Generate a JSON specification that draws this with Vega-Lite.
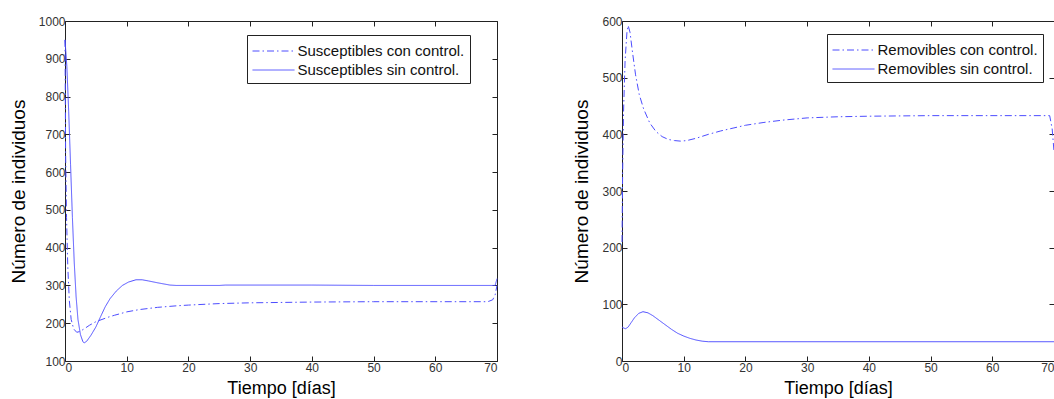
{
  "$schema": "https://vega.github.io/schema/vega-lite/v6.json",
  "background": "white",
  "padding": {"left": 8, "top": 14, "right": 0, "bottom": 0},
  "spacing": 125,
  "bounds": "flush",
  "config": {
    "font": "Liberation Sans",
    "view": {"stroke": "#222", "strokeWidth": 1},
    "axis": {
      "grid": false,
      "domain": false,
      "tickSize": -5,
      "tickColor": "#222",
      "labelFontSize": 12,
      "labelColor": "#333",
      "labelPadding": 5,
      "labelLimit": 0,
      "format": "d",
      "titleFontSize": 19,
      "titleFontWeight": "normal",
      "titleColor": "#000",
      "titlePadding": 10
    },
    "axisBottom": {"titleFontSize": 18, "titlePadding": 6, "labelPadding": 6},
    "legend": {
      "orient": "none",
      "title": null,
      "strokeColor": "#222",
      "fillColor": "white",
      "padding": 5,
      "symbolType": "M-2,0H2",
      "symbolSize": 441,
      "symbolOffset": 10.5,
      "symbolStrokeWidth": 1,
      "symbolStrokeColor": "#4d4dff",
      "symbolFillColor": "transparent",
      "labelFontSize": 15,
      "labelColor": "#111",
      "labelOffset": 13,
      "labelLimit": 0,
      "rowPadding": 0
    }
  },
  "datasets": {
    "S": [
      {"t": 0, "v": 950, "serie": "Susceptibles sin control."},
      {"t": 0.3, "v": 880, "serie": "Susceptibles sin control."},
      {"t": 0.6, "v": 760, "serie": "Susceptibles sin control."},
      {"t": 0.9, "v": 620, "serie": "Susceptibles sin control."},
      {"t": 1.2, "v": 480, "serie": "Susceptibles sin control."},
      {"t": 1.5, "v": 360, "serie": "Susceptibles sin control."},
      {"t": 1.8, "v": 270, "serie": "Susceptibles sin control."},
      {"t": 2.1, "v": 210, "serie": "Susceptibles sin control."},
      {"t": 2.5, "v": 170, "serie": "Susceptibles sin control."},
      {"t": 2.9, "v": 151, "serie": "Susceptibles sin control."},
      {"t": 3.1, "v": 148, "serie": "Susceptibles sin control."},
      {"t": 3.5, "v": 152, "serie": "Susceptibles sin control."},
      {"t": 4.2, "v": 168, "serie": "Susceptibles sin control."},
      {"t": 5, "v": 190, "serie": "Susceptibles sin control."},
      {"t": 5.7, "v": 215, "serie": "Susceptibles sin control."},
      {"t": 6.5, "v": 243, "serie": "Susceptibles sin control."},
      {"t": 7.3, "v": 265, "serie": "Susceptibles sin control."},
      {"t": 8.3, "v": 285, "serie": "Susceptibles sin control."},
      {"t": 9.3, "v": 300, "serie": "Susceptibles sin control."},
      {"t": 10.3, "v": 309, "serie": "Susceptibles sin control."},
      {"t": 11.5, "v": 315, "serie": "Susceptibles sin control."},
      {"t": 12.5, "v": 315, "serie": "Susceptibles sin control."},
      {"t": 13.5, "v": 312, "serie": "Susceptibles sin control."},
      {"t": 15, "v": 307, "serie": "Susceptibles sin control."},
      {"t": 17, "v": 301, "serie": "Susceptibles sin control."},
      {"t": 18, "v": 300, "serie": "Susceptibles sin control."},
      {"t": 25, "v": 300, "serie": "Susceptibles sin control."},
      {"t": 26, "v": 301, "serie": "Susceptibles sin control."},
      {"t": 40, "v": 301, "serie": "Susceptibles sin control."},
      {"t": 50, "v": 300, "serie": "Susceptibles sin control."},
      {"t": 69.7, "v": 300, "serie": "Susceptibles sin control."},
      {"t": 70, "v": 318, "serie": "Susceptibles sin control."},
      {"t": 0, "v": 950, "serie": "Susceptibles con control."},
      {"t": 0.05, "v": 800, "serie": "Susceptibles con control."},
      {"t": 0.1, "v": 650, "serie": "Susceptibles con control."},
      {"t": 0.25, "v": 480, "serie": "Susceptibles con control."},
      {"t": 0.45, "v": 350, "serie": "Susceptibles con control."},
      {"t": 0.7, "v": 260, "serie": "Susceptibles con control."},
      {"t": 1.0, "v": 210, "serie": "Susceptibles con control."},
      {"t": 1.4, "v": 185, "serie": "Susceptibles con control."},
      {"t": 1.9, "v": 176, "serie": "Susceptibles con control."},
      {"t": 2.4, "v": 178, "serie": "Susceptibles con control."},
      {"t": 3, "v": 184, "serie": "Susceptibles con control."},
      {"t": 4, "v": 195, "serie": "Susceptibles con control."},
      {"t": 5, "v": 204, "serie": "Susceptibles con control."},
      {"t": 6, "v": 210, "serie": "Susceptibles con control."},
      {"t": 7, "v": 216, "serie": "Susceptibles con control."},
      {"t": 8, "v": 221, "serie": "Susceptibles con control."},
      {"t": 10, "v": 230, "serie": "Susceptibles con control."},
      {"t": 12, "v": 236, "serie": "Susceptibles con control."},
      {"t": 15, "v": 242, "serie": "Susceptibles con control."},
      {"t": 18, "v": 246, "serie": "Susceptibles con control."},
      {"t": 20, "v": 248, "serie": "Susceptibles con control."},
      {"t": 25, "v": 252, "serie": "Susceptibles con control."},
      {"t": 30, "v": 254, "serie": "Susceptibles con control."},
      {"t": 40, "v": 256, "serie": "Susceptibles con control."},
      {"t": 50, "v": 257, "serie": "Susceptibles con control."},
      {"t": 68.5, "v": 257, "serie": "Susceptibles con control."},
      {"t": 69.3, "v": 262, "serie": "Susceptibles con control."},
      {"t": 69.7, "v": 275, "serie": "Susceptibles con control."},
      {"t": 70, "v": 300, "serie": "Susceptibles con control."}
    ],
    "R": [
      {"t": 0, "v": 210, "serie": "Removibles con control."},
      {"t": 0.1, "v": 330, "serie": "Removibles con control."},
      {"t": 0.25, "v": 440, "serie": "Removibles con control."},
      {"t": 0.5, "v": 530, "serie": "Removibles con control."},
      {"t": 0.8, "v": 580, "serie": "Removibles con control."},
      {"t": 1.0, "v": 592, "serie": "Removibles con control."},
      {"t": 1.3, "v": 580, "serie": "Removibles con control."},
      {"t": 1.7, "v": 545, "serie": "Removibles con control."},
      {"t": 2.2, "v": 505, "serie": "Removibles con control."},
      {"t": 2.8, "v": 470, "serie": "Removibles con control."},
      {"t": 3.5, "v": 445, "serie": "Removibles con control."},
      {"t": 4.5, "v": 420, "serie": "Removibles con control."},
      {"t": 5.5, "v": 405, "serie": "Removibles con control."},
      {"t": 6.5, "v": 396, "serie": "Removibles con control."},
      {"t": 7.5, "v": 391, "serie": "Removibles con control."},
      {"t": 8.5, "v": 389, "serie": "Removibles con control."},
      {"t": 9.5, "v": 388, "serie": "Removibles con control."},
      {"t": 10.5, "v": 389, "serie": "Removibles con control."},
      {"t": 12, "v": 393, "serie": "Removibles con control."},
      {"t": 14, "v": 400, "serie": "Removibles con control."},
      {"t": 16, "v": 406, "serie": "Removibles con control."},
      {"t": 18, "v": 411, "serie": "Removibles con control."},
      {"t": 20, "v": 416, "serie": "Removibles con control."},
      {"t": 23, "v": 421, "serie": "Removibles con control."},
      {"t": 26, "v": 425, "serie": "Removibles con control."},
      {"t": 30, "v": 429, "serie": "Removibles con control."},
      {"t": 35, "v": 431, "serie": "Removibles con control."},
      {"t": 40, "v": 432, "serie": "Removibles con control."},
      {"t": 50, "v": 433, "serie": "Removibles con control."},
      {"t": 69.3, "v": 433, "serie": "Removibles con control."},
      {"t": 69.7, "v": 410, "serie": "Removibles con control."},
      {"t": 70, "v": 370, "serie": "Removibles con control."},
      {"t": 0, "v": 60, "serie": "Removibles sin control."},
      {"t": 0.3, "v": 58, "serie": "Removibles sin control."},
      {"t": 0.6, "v": 57, "serie": "Removibles sin control."},
      {"t": 1, "v": 60, "serie": "Removibles sin control."},
      {"t": 1.5, "v": 68, "serie": "Removibles sin control."},
      {"t": 2, "v": 76, "serie": "Removibles sin control."},
      {"t": 2.7, "v": 84, "serie": "Removibles sin control."},
      {"t": 3.4, "v": 87, "serie": "Removibles sin control."},
      {"t": 4.2, "v": 85, "serie": "Removibles sin control."},
      {"t": 5, "v": 80, "serie": "Removibles sin control."},
      {"t": 6, "v": 72, "serie": "Removibles sin control."},
      {"t": 7, "v": 64, "serie": "Removibles sin control."},
      {"t": 8, "v": 56, "serie": "Removibles sin control."},
      {"t": 9, "v": 49, "serie": "Removibles sin control."},
      {"t": 10, "v": 44, "serie": "Removibles sin control."},
      {"t": 11, "v": 40, "serie": "Removibles sin control."},
      {"t": 12, "v": 37, "serie": "Removibles sin control."},
      {"t": 13, "v": 35, "serie": "Removibles sin control."},
      {"t": 14, "v": 34, "serie": "Removibles sin control."},
      {"t": 30, "v": 34, "serie": "Removibles sin control."},
      {"t": 70, "v": 34, "serie": "Removibles sin control."}
    ]
  },
  "hconcat": [
    {
      "width": 432,
      "height": 340,
      "data": {"name": "S"},
      "layer": [
        {
          "mark": {"type": "line", "strokeWidth": 1, "color": "#4d4dff"},
          "encoding": {
            "x": {"field": "t", "type": "quantitative", "scale": {"domain": [0, 70], "nice": false, "zero": false},
                  "axis": {"title": "Tiempo [días]", "values": [0, 10, 20, 30, 40, 50, 60, 70]}},
            "y": {"field": "v", "type": "quantitative", "scale": {"domain": [100, 1000], "nice": false, "zero": false},
                  "axis": {"title": "Número de individuos", "values": [100, 200, 300, 400, 500, 600, 700, 800, 900, 1000]}},
            "strokeDash": {"field": "serie", "type": "nominal",
                  "scale": {"domain": ["Susceptibles con control.", "Susceptibles sin control."], "range": [[7, 3, 1.5, 3], [1, 0]]},
                  "legend": {"legendX": 182, "legendY": 14, "symbolStrokeColor": "#4d4dff"}}
          }
        },
        {
          "mark": {"type": "line", "opacity": 0},
          "encoding": {
            "x": {"field": "t", "type": "quantitative", "axis": {"orient": "top", "labels": false, "title": null, "values": [0, 10, 20, 30, 40, 50, 60, 70]}},
            "y": {"field": "v", "type": "quantitative", "axis": {"orient": "right", "labels": false, "title": null, "values": [100, 200, 300, 400, 500, 600, 700, 800, 900, 1000]}},
            "detail": {"field": "serie"}
          }
        }
      ],
      "resolve": {"axis": {"x": "independent", "y": "independent"}}
    },
    {
      "width": 432,
      "height": 340,
      "data": {"name": "R"},
      "layer": [
        {
          "mark": {"type": "line", "strokeWidth": 1, "color": "#4d4dff"},
          "encoding": {
            "x": {"field": "t", "type": "quantitative", "scale": {"domain": [0, 70], "nice": false, "zero": false},
                  "axis": {"title": "Tiempo [días]", "values": [0, 10, 20, 30, 40, 50, 60, 70]}},
            "y": {"field": "v", "type": "quantitative", "scale": {"domain": [0, 600], "nice": false},
                  "axis": {"title": "Número de individuos", "values": [0, 100, 200, 300, 400, 500, 600]}},
            "strokeDash": {"field": "serie", "type": "nominal",
                  "scale": {"domain": ["Removibles con control.", "Removibles sin control."], "range": [[7, 3, 1.5, 3], [1, 0]]},
                  "legend": {"legendX": 205, "legendY": 13, "symbolStrokeColor": "#4d4dff"}}
          }
        },
        {
          "mark": {"type": "line", "opacity": 0},
          "encoding": {
            "x": {"field": "t", "type": "quantitative", "axis": {"orient": "top", "labels": false, "title": null, "values": [0, 10, 20, 30, 40, 50, 60, 70]}},
            "y": {"field": "v", "type": "quantitative", "axis": {"orient": "right", "labels": false, "title": null, "values": [0, 100, 200, 300, 400, 500, 600]}},
            "detail": {"field": "serie"}
          }
        }
      ],
      "resolve": {"axis": {"x": "independent", "y": "independent"}, "legend": {"strokeDash": "independent"}}
    }
  ],
  "resolve": {"scale": {"strokeDash": "independent", "x": "independent", "y": "independent"}, "legend": {"strokeDash": "independent"}}
}
